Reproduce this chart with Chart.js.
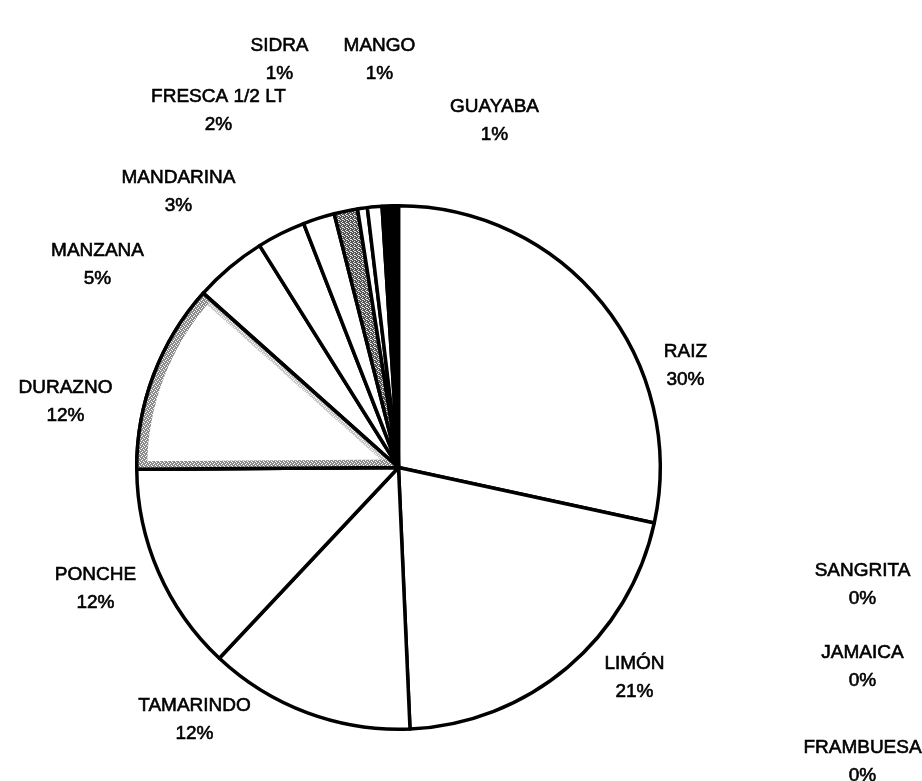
<!DOCTYPE html>
<html>
<head>
<meta charset="utf-8">
<script src="https://cdn.jsdelivr.net/npm/chart.js@4.4.1/dist/chart.umd.min.js"></script>
<style>
  html, body { margin: 0; padding: 0; background: #ffffff; }
  #wrap { width: 922px; height: 781px; position: relative; }
</style>
</head>
<body>
<div id="wrap"><canvas id="c" width="922" height="781"></canvas></div>
<script>
// ---- data ----
const categories = ['RAIZ', 'LIMÓN', 'TAMARINDO', 'PONCHE', 'DURAZNO', 'MANZANA', 'MANDARINA',
                    'FRESCA 1/2 LT', 'SIDRA', 'MANGO', 'GUAYABA', 'SANGRITA', 'JAMAICA', 'FRAMBUESA'];
const shares = [28.4, 20.9, 12.7, 12.9, 11.7, 4.5, 3.0, 1.95, 1.45, 0.6, 0.9, 0.4, 0.35, 0.25];
const percentLabels = ['30%', '21%', '12%', '12%', '12%', '5%', '3%', '2%', '1%', '1%', '1%', '0%', '0%', '0%'];

// ---- layout / styling (not data) ----
// label block centres, as offsets from the pie centre
const labelOffsets = [
  [287, -102], [236, 210], [-204, 252], [-303, 121], [-333, -66], [-301, -203], [-220, -276],
  [-180, -357], [-119, -408], [-19, -408], [96, -347], [464, 117], [464, 199], [464, 294]
];

function makePattern(bg, fg, cells) {
  const p = document.createElement('canvas');
  p.width = 4; p.height = 4;
  const g = p.getContext('2d');
  g.fillStyle = bg; g.fillRect(0, 0, 4, 4);
  g.fillStyle = fg;
  cells.forEach(([x, y]) => g.fillRect(x, y, 1, 1));
  return g.createPattern(p, 'repeat');
}
const ctx0 = document.getElementById('c').getContext('2d');
const sidraFill = makePattern('#555555', '#e8e8e8', [[0, 0], [2, 1], [1, 2], [3, 3], [2, 3]]);
const bandFill = makePattern('#8c8c8c', '#ffffff', [[1, 0], [3, 1], [0, 2], [2, 3]]);

const fills = categories.map((c, i) => {
  if (i === 8) return sidraFill;
  if (i >= 11) return '#000000';
  return '#ffffff';
});

const durazanoBand = {
  id: 'durazanoBand',
  afterDatasetsDraw(chart) {
    const arc = chart.getDatasetMeta(0).data[4];
    if (!arc) return;
    const ctx = chart.ctx;
    const { x, y, startAngle, endAngle, outerRadius } = arc.getProps(['x', 'y', 'startAngle', 'endAngle', 'outerRadius'], true);
    const path = () => {
      ctx.beginPath();
      ctx.moveTo(x, y);
      ctx.arc(x, y, outerRadius, startAngle, endAngle);
      ctx.closePath();
    };
    ctx.save();
    path();
    ctx.clip();
    ctx.strokeStyle = bandFill;
    // band along the rim
    ctx.beginPath();
    ctx.arc(x, y, outerRadius - 5, startAngle, endAngle);
    ctx.lineWidth = 11;
    ctx.stroke();
    // band along the lower radial edge
    ctx.beginPath();
    ctx.moveTo(x, y);
    ctx.lineTo(x + Math.cos(startAngle) * outerRadius, y + Math.sin(startAngle) * outerRadius);
    ctx.lineWidth = 16;
    ctx.stroke();
    // faint band along the upper radial edge
    ctx.beginPath();
    ctx.moveTo(x, y);
    ctx.lineTo(x + Math.cos(endAngle) * outerRadius, y + Math.sin(endAngle) * outerRadius);
    ctx.lineWidth = 12;
    ctx.globalAlpha = 0.5;
    ctx.stroke();
    ctx.restore();
    ctx.save();
    path();
    ctx.lineWidth = 3.5;
    ctx.strokeStyle = '#000';
    ctx.lineJoin = 'round';
    ctx.stroke();
    ctx.restore();
  }
};

const sliceLabels = {
  id: 'sliceLabels',
  afterDraw(chart) {
    const arc = chart.getDatasetMeta(0).data[0];
    const ctx = chart.ctx;
    const cx = arc.x, cy = arc.y;
    ctx.save();
    ctx.fillStyle = '#000';
    ctx.strokeStyle = '#000';
    ctx.lineWidth = 0.6;
    ctx.font = '19px "Liberation Sans", Arial, sans-serif';
    ctx.textAlign = 'center';
    ctx.textBaseline = 'middle';
    categories.forEach((name, i) => {
      const [dx, dy] = labelOffsets[i];
      ctx.fillText(name, cx + dx, cy + dy - 14);
      ctx.strokeText(name, cx + dx, cy + dy - 14);
      ctx.fillText(percentLabels[i], cx + dx, cy + dy + 14);
      ctx.strokeText(percentLabels[i], cx + dx, cy + dy + 14);
    });
    ctx.restore();
  }
};

new Chart(ctx0, {
  type: 'pie',
  data: {
    labels: categories,
    datasets: [{
      data: shares,
      backgroundColor: fills,
      borderColor: '#000000',
      borderWidth: 3.5,
      borderJoinStyle: 'round'
    }]
  },
  options: {
    responsive: false,
    animation: false,
    events: [],
    layout: { padding: { left: 135, right: 260, top: 204, bottom: 50 } },
    plugins: {
      legend: { display: false },
      tooltip: { enabled: false },
      title: { display: false }
    }
  },
  plugins: [durazanoBand, sliceLabels]
});
</script>
</body>
</html>
